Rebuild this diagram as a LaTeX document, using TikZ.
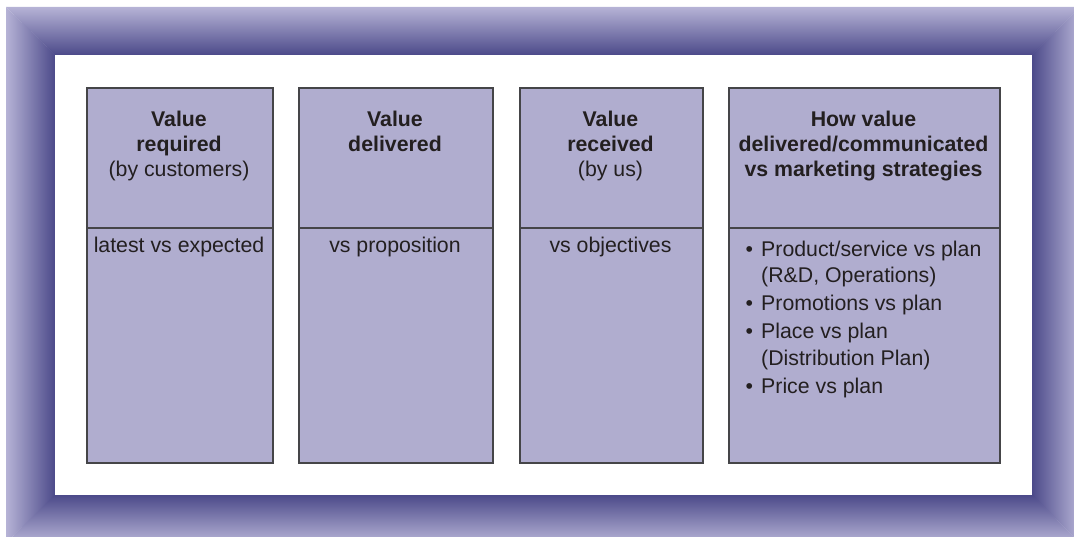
\documentclass[tikz,border=0pt]{standalone}
\usepackage{fontspec}
\setmainfont{Liberation Sans}
\definecolor{framelight}{HTML}{B6B3D6}
\definecolor{framedark}{HTML}{4B4989}
\definecolor{boxfill}{HTML}{B0ADCF}
\definecolor{boxline}{HTML}{454548}
\definecolor{ink}{HTML}{231F20}
\begin{document}
\begin{tikzpicture}[x=1pt,y=-1pt,
  colbox/.style={draw=boxline,line width=1.6pt,fill=boxfill,anchor=north west,inner sep=0pt,minimum height=375pt},
  txt/.style={anchor=base,inner sep=0pt,text=ink,font=\fontsize{21.3}{25}\selectfont},
  hdr/.style={txt,font=\fontsize{21.3}{25}\selectfont\bfseries},
  itm/.style={txt,anchor=base west}]
\useasboundingbox (0,0) rectangle (1074,537);
\clip (0,0) rectangle (1074,537);
% frame bands
\begin{scope}
  \clip (6,7) -- (1080,7) -- (1032,55) -- (55,55) -- cycle;
  \shade[top color=framelight,bottom color=framedark] (6,7) rectangle (1080,55.5);
\end{scope}
\begin{scope}
  \clip (6,7) -- (55.5,55) -- (55.5,495) -- (6,543) -- cycle;
  \shade[left color=framelight,right color=framedark] (6,7) rectangle (55.5,543);
\end{scope}
\begin{scope}
  \clip (1080,7) -- (1080,543) -- (1031.5,495) -- (1031.5,55) -- cycle;
  \shade[left color=framedark,right color=framelight] (1031.5,7) rectangle (1080,543);
\end{scope}
\begin{scope}
  \clip (6,543) -- (55,494.5) -- (1032,494.5) -- (1080,543) -- cycle;
  \shade[top color=framedark,bottom color=framelight] (6,494.5) rectangle (1080,543);
\end{scope}
\fill[white] (55,55) rectangle (1032,495);
% boxes
\node[colbox,minimum width=186pt] (b1) at (86,87) {};
\node[colbox,minimum width=194pt] (b2) at (298,87) {};
\node[colbox,minimum width=183pt] (b3) at (519,87) {};
\node[colbox,minimum width=271pt] (b4) at (728,87) {};
\foreach \b in {b1,b2,b3,b4}{
  \coordinate (\b l) at (\b.west |- 0,228);
  \coordinate (\b r) at (\b.east |- 0,228);
  \draw[boxline,line width=1.3pt] (\b l) -- (\b r);
}
% headers
\node[hdr] (h1a) at (179,127) {Value};
\node[hdr] (h1b) at (179,152) {required};
\node[txt] (h1c) at (179,177) {(by customers)};
\node[hdr] (h2a) at (395,127) {Value};
\node[hdr] (h2b) at (395,152) {delivered};
\node[hdr] (h3a) at (610.5,127) {Value};
\node[hdr] (h3b) at (610.5,152) {received};
\node[txt] (h3c) at (610.5,177) {(by us)};
\node[hdr] (h4a) at (863.5,127) {How value};
\node[hdr] (h4b) at (863.5,152) {delivered/communicated};
\node[hdr] (h4c) at (863.5,177) {vs marketing strategies};
% bodies
\node[txt] (t1) at (179,253) {latest vs expected};
\node[txt] (t2) at (395,253) {vs proposition};
\node[txt] (t3) at (610.5,253) {vs objectives};
% list
\node[itm] (d1) at (745.5,256.5) {•};
\node[itm] (l1) at (761,256.5) {Product/service vs plan};
\node[itm] (l1b) at (761,282.5) {(R\&D, Operations)};
\node[itm] (d2) at (745.5,310.5) {•};
\node[itm] (l2) at (761,310.5) {Promotions vs plan};
\node[itm] (d3) at (745.5,339) {•};
\node[itm] (l3) at (761,339) {Place vs plan};
\node[itm] (l3b) at (761,365.5) {(Distribution Plan)};
\node[itm] (d4) at (745.5,393) {•};
\node[itm] (l4) at (761,393) {Price vs plan};
\end{tikzpicture}
\end{document}
